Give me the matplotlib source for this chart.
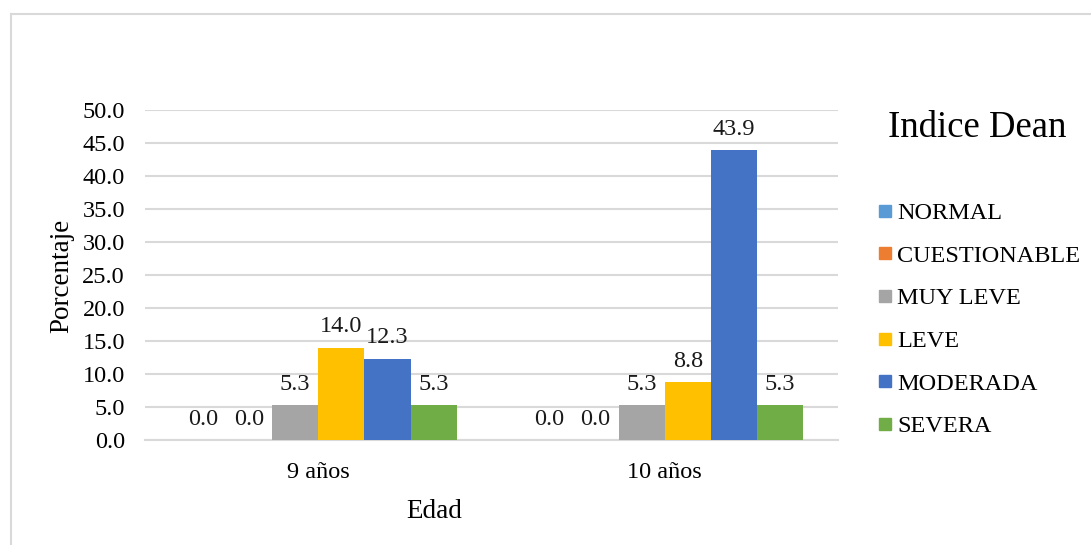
import matplotlib
matplotlib.use("Agg")
import matplotlib.pyplot as plt
from matplotlib.lines import Line2D
import numpy as np

categories = ["9 años", "10 años"]
series_names = ["NORMAL", "CUESTIONABLE", "MUY LEVE", "LEVE", "MODERADA", "SEVERA"]
normal = [0.0, 0.0]
cuestionable = [0.0, 0.0]
muy_leve = [5.3, 5.3]
leve = [14.0, 8.8]
moderada = [12.3, 43.9]
severa = [5.3, 5.3]
series_values = [normal, cuestionable, muy_leve, leve, moderada, severa]
colors = ["#5B9BD5", "#ED7D31", "#A5A5A5", "#FFC000", "#4472C4", "#70AD47"]
yticks = [0, 5, 10, 15, 20, 25, 30, 35, 40, 45, 50]

plt.rcParams["font.family"] = ["Liberation Serif", "DejaVu Serif"]

W, H = 1091, 545
fig = plt.figure(figsize=(W / 100, H / 100), dpi=100)
FS = 17.5

# plot area in pixel coordinates
left, right, top, bottom = 145, 838, 110, 440
ax = fig.add_axes([left / W, 1 - bottom / H, (right - left) / W, (bottom - top) / H])

n = len(series_names)
group_w = 0.8
bar_w = group_w / n
x = np.arange(len(categories))

for i, (name, vals, c) in enumerate(zip(series_names, series_values, colors)):
    pos = x - group_w / 2 + bar_w * (i + 0.5)
    ax.bar(pos, vals, width=bar_w, color=c, zorder=3, label=name)
    for px, v in zip(pos, vals):
        ax.annotate(f"{v:.1f}", (px, v), xytext=(0, 15), textcoords="offset points",
                    ha="center", va="center", fontsize=FS, color="#1a1a1a", zorder=4)

ax.set_xlim(-0.5, len(categories) - 0.5)
ax.set_ylim(0, 50)
ax.set_yticks(yticks)
ax.set_yticklabels([f"{t:.1f}" for t in yticks], fontsize=FS)
ax.set_xticks(x)
ax.set_xticklabels(categories, fontsize=FS)
ax.tick_params(axis="y", length=0, pad=14.5)
ax.tick_params(axis="x", length=0, pad=16)
ax.grid(axis="y", color="#D9D9D9", linewidth=1.5, zorder=0)
for s in ["top", "right", "left"]:
    ax.spines[s].set_visible(False)
ax.spines["bottom"].set_color("#D9D9D9")
ax.spines["bottom"].set_linewidth(1.5)

fig.text(62 / W, 1 - 276 / H, "Porcentaje", rotation=90, ha="center", va="center", fontsize=19.5)
fig.text(434 / W, 1 - 512 / H, "Edad", ha="center", va="center", fontsize=19.5)

# legend title and entries
fig.text(977 / W, 1 - 128 / H, "Indice Dean", ha="center", va="center", fontsize=26.5)
handles = [Line2D([], [], marker="s", linestyle="none", markersize=8.3,
                  markerfacecolor=c, markeredgecolor=c) for c in colors]
fig.legend(handles, series_names, loc="upper left",
           bbox_to_anchor=(879 / W, 1 - 202 / H), frameon=False, fontsize=FS,
           handlelength=0.5, handletextpad=0.25, labelspacing=0.85,
           borderpad=0, borderaxespad=0)

# chart border (top and left edges)
fig.add_artist(Line2D([11 / W, 1], [1 - 14 / H, 1 - 14 / H], color="#D9D9D9", linewidth=1.5))
fig.add_artist(Line2D([11 / W, 11 / W], [0, 1 - 14 / H], color="#D9D9D9", linewidth=1.5))

fig.savefig("out.png", dpi=100, facecolor="white")
